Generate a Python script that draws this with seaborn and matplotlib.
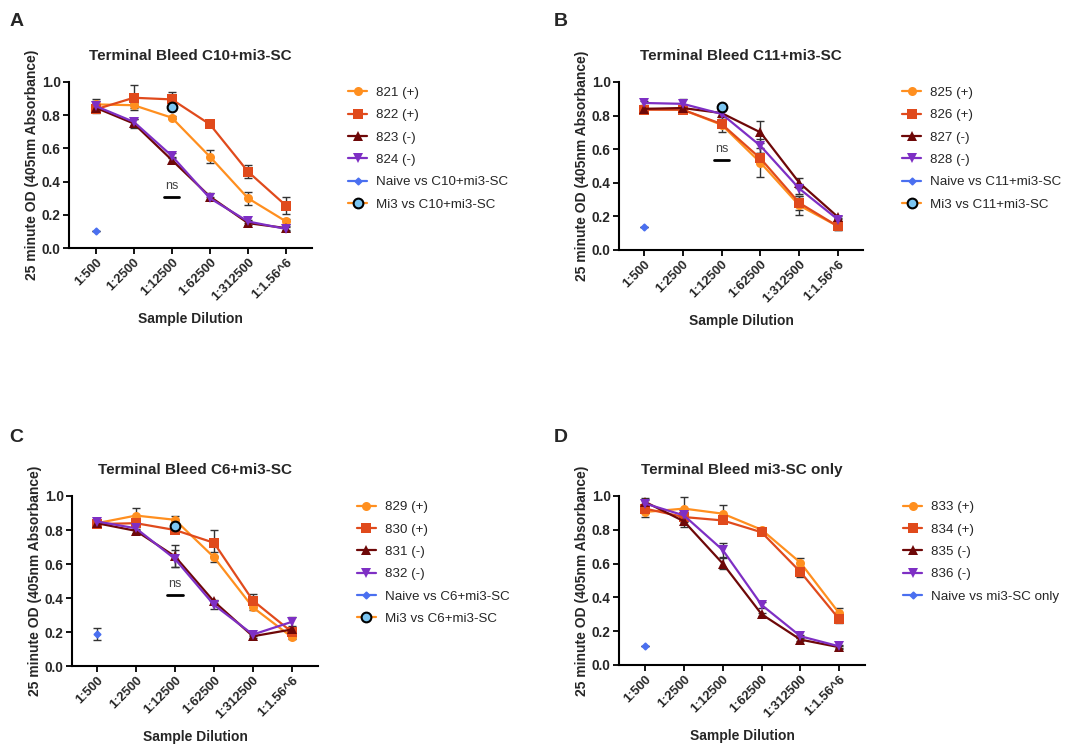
import numpy as np
import pandas as pd
import matplotlib
matplotlib.use("Agg")
import matplotlib.pyplot as plt
from matplotlib.lines import Line2D
import seaborn as sns

# dilution steps on the x axis
dilutions = ["1:500", "1:2500", "1:12500", "1:62500", "1:312500", "1:1.56^6"]

# panel A - C10+mi3-SC
mice_A = ["821 (+)", "822 (+)", "823 (-)", "824 (-)"]
od_A = [[0.865, 0.86, 0.785, 0.55, 0.30, 0.16],
        [0.835, 0.905, 0.895, 0.745, 0.46, 0.255],
        [0.845, 0.75, 0.53, 0.31, 0.15, 0.12],
        [0.855, 0.76, 0.555, 0.30, 0.16, 0.115]]
err_A = [[0.02, 0.015, 0.01, 0.04, 0.04, 0.015],
         [0.01, 0.075, 0.045, 0.01, 0.04, 0.05],
         [0.01, 0.03, 0.02, 0.02, 0.01, 0.01],
         [0.04, 0.02, 0.015, 0.01, 0.01, 0.01]]
naive_A = [0.10, 0.0]
mi3_A = 0.85
ns_A = 0.31

# panel B - C11+mi3-SC
mice_B = ["825 (+)", "826 (+)", "827 (-)", "828 (-)"]
od_B = [[0.84, 0.835, 0.745, 0.52, 0.265, 0.14],
        [0.835, 0.835, 0.75, 0.545, 0.28, 0.14],
        [0.84, 0.845, 0.815, 0.70, 0.40, 0.195],
        [0.875, 0.87, 0.81, 0.62, 0.365, 0.18]]
err_B = [[0.01, 0.01, 0.045, 0.085, 0.055, 0.02],
         [0.01, 0.01, 0.02, 0.03, 0.04, 0.02],
         [0.01, 0.01, 0.02, 0.065, 0.03, 0.01],
         [0.01, 0.03, 0.02, 0.04, 0.03, 0.01]]
naive_B = [0.135, 0.0]
mi3_B = 0.85
ns_B = 0.535

# panel C - C6+mi3-SC
mice_C = ["829 (+)", "830 (+)", "831 (-)", "832 (-)"]
od_C = [[0.84, 0.885, 0.86, 0.64, 0.345, 0.17],
        [0.835, 0.84, 0.80, 0.725, 0.385, 0.20],
        [0.84, 0.795, 0.645, 0.38, 0.175, 0.215],
        [0.85, 0.81, 0.63, 0.36, 0.185, 0.26]]
err_C = [[0.01, 0.045, 0.025, 0.03, 0.015, 0.01],
         [0.01, 0.01, 0.02, 0.075, 0.04, 0.02],
         [0.01, 0.01, 0.065, 0.01, 0.01, 0.02],
         [0.01, 0.01, 0.05, 0.025, 0.01, 0.03]]
naive_C = [0.19, 0.035]
mi3_C = 0.825
ns_C = 0.415

# panel D - mi3-SC only
mice_D = ["833 (+)", "834 (+)", "835 (-)", "836 (-)"]
od_D = [[0.905, 0.925, 0.895, 0.80, 0.605, 0.305],
        [0.925, 0.875, 0.855, 0.785, 0.55, 0.27],
        [0.965, 0.85, 0.60, 0.30, 0.15, 0.105],
        [0.955, 0.885, 0.68, 0.355, 0.17, 0.11]]
err_D = [[0.03, 0.07, 0.05, 0.01, 0.025, 0.03],
         [0.02, 0.03, 0.015, 0.01, 0.03, 0.02],
         [0.02, 0.035, 0.03, 0.01, 0.01, 0.01],
         [0.02, 0.02, 0.04, 0.02, 0.01, 0.01]]
naive_D = [0.11, 0.0]

colors = ["#FF8F1F", "#E04A1C", "#6E0808", "#7E2FC4"]
markers = ["o", "s", "^", "v"]
naive_col = "#4A6FF0"
mi3_face = "#7CC6F2"

sns.set_style("ticks")
plt.rcParams["font.family"] = ["Liberation Sans", "DejaVu Sans"]

fig = plt.figure(figsize=(10.78, 7.48), dpi=100)

panels = [
    ("A", "Terminal Bleed C10+mi3-SC", "C10+mi3-SC", mice_A, od_A, err_A, naive_A, mi3_A, ns_A,
     [0.064, 0.6684, 0.2254, 0.222], (-0.70, 5.68), (0.3228, 0.884), (0.009, 0.982)),
    ("B", "Terminal Bleed C11+mi3-SC", "C11+mi3-SC", mice_B, od_B, err_B, naive_B, mi3_B, ns_B,
     [0.5742, 0.6658, 0.2264, 0.2246], (-0.64, 5.64), (0.8367, 0.884), (0.514, 0.982)),
    ("C", "Terminal Bleed C6+mi3-SC", "C6+mi3-SC", mice_C, od_C, err_C, naive_C, mi3_C, ns_C,
     [0.0668, 0.1096, 0.2282, 0.2273], (-0.64, 5.67), (0.331, 0.330), (0.009, 0.426)),
    ("D", "Terminal Bleed mi3-SC only", "mi3-SC only", mice_D, od_D, err_D, naive_D, None, None,
     [0.5742, 0.111, 0.2282, 0.226], (-0.67, 5.66), (0.8377, 0.330), (0.514, 0.426)),
]

x = np.arange(len(dilutions))

for letter, title, group, mice, od, err, naive, mi3, ns_y, pos, xl, leg_pos, let_pos in panels:
    ax = fig.add_axes(pos)
    df = pd.DataFrame({
        "x": np.tile(x, len(mice)),
        "od": np.concatenate(od),
        "mouse": np.repeat(mice, len(x)),
    })
    sns.lineplot(data=df, x="x", y="od", hue="mouse", style="mouse",
                 palette=dict(zip(mice, colors)), markers=dict(zip(mice, markers)),
                 dashes=False, markersize=6.5, markeredgewidth=0, linewidth=1.6,
                 errorbar=None, legend=False, ax=ax, zorder=3)
    for i in range(len(mice)):
        ax.errorbar(x, od[i], yerr=err[i], fmt="none", ecolor="#333333",
                    elinewidth=1.0, capsize=3, capthick=1.0, zorder=2)

    ax.errorbar([0], [naive[0]], yerr=[naive[1]], fmt="D", color=naive_col, ms=3.5,
                ecolor="#333333", elinewidth=1.0, capsize=3, zorder=4)

    handles = [Line2D([0], [0], color=c, marker=m, ms=6.5, mew=0, lw=1.6)
               for c, m in zip(colors, markers)]
    labels = list(mice)
    handles.append(Line2D([0], [0], color=naive_col, marker="D", ms=3.5, lw=1.6))
    labels.append("Naive vs " + group)

    if mi3 is not None:
        ax.plot([2], [mi3], marker="o", ms=7, mfc=mi3_face, mec="black", mew=1.5,
                ls="none", zorder=5)
        ax.plot([1.8, 2.2], [ns_y, ns_y], color="black", lw=2)
        ax.text(2, ns_y + 0.03, "ns", ha="center", va="bottom", fontsize=9, color="#444444")
        handles.append(Line2D([0], [0], color=colors[0], marker="o", ms=7, mfc=mi3_face,
                              mec="black", mew=1.5, lw=1.6))
        labels.append("Mi3 vs " + group)

    ax.set_xlim(*xl)
    ax.set_ylim(0, 1.0)
    ax.set_xticks(x)
    ax.set_xticklabels(dilutions, rotation=45, ha="right", rotation_mode="anchor",
                       fontsize=9.3, fontweight="bold")
    ax.set_yticks([0, 0.2, 0.4, 0.6, 0.8, 1.0])
    ax.set_yticklabels(["0.0", "0.2", "0.4", "0.6", "0.8", "1.0"], fontsize=9.8, fontweight="bold")
    ax.tick_params(axis="both", direction="out", length=4, width=1.3, color="black", pad=2)
    for s in ["left", "bottom"]:
        ax.spines[s].set_linewidth(1.5)
        ax.spines[s].set_color("black")
    sns.despine(ax=ax)
    ax.set_xlabel("Sample Dilution", fontsize=10, fontweight="bold", labelpad=6)
    ax.set_ylabel("25 minute OD (405nm Absorbance)", fontsize=10, fontweight="bold", labelpad=2)
    ax.set_title(title, fontsize=11, fontweight="bold", pad=16)

    fig.legend(handles, labels, loc="upper left", bbox_to_anchor=leg_pos,
               frameon=False, fontsize=9.6, handlelength=1.45, handletextpad=0.65,
               labelspacing=0.75, borderpad=0, borderaxespad=0)
    fig.text(let_pos[0], let_pos[1], letter, fontsize=14, fontweight="bold", va="top")

fig.savefig("out.png", dpi=100)
